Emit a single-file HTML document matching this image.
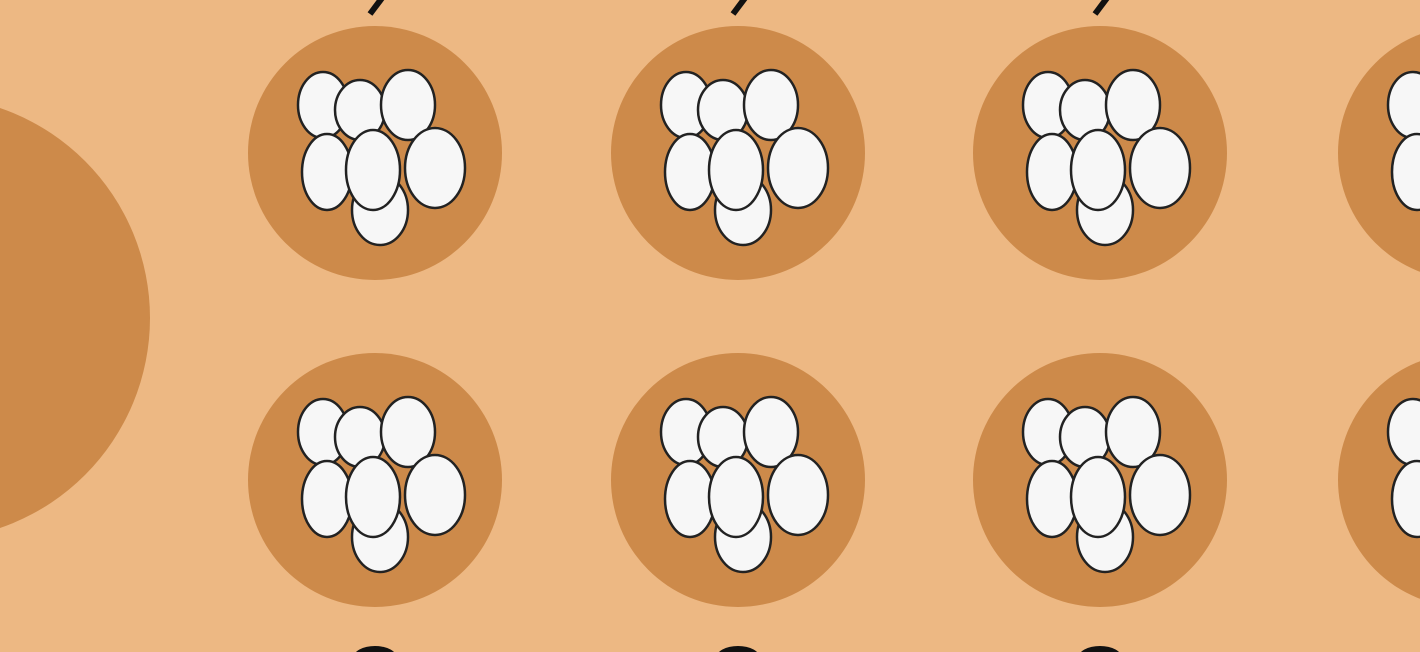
<!DOCTYPE html>
<html><head><meta charset="utf-8"><style>
html,body{margin:0;padding:0;background:#EDB883;}
svg{display:block}
</style></head><body>
<svg width="1420" height="652" viewBox="0 0 1420 652">
<rect width="1420" height="652" fill="#EDB883"/>
<circle cx="-72" cy="318" r="222" fill="#CD8A4A"/>
<g id="cells"></g>
</svg>
<script>
const cols=[375,738,1100,1465];
const rows=[153,480];
const eggs=[[5,57,28,35],[-52,-48,25,33],[-15,-43,25,30],[33,-48,27,35],[-48,19,25,38],[60,15,30,40],[-2,17,27,40]];
const g=document.getElementById('cells');
const ns='http://www.w3.org/2000/svg';
rows.forEach((cy,ri)=>cols.forEach((cx,ci)=>{
 const grp=document.createElementNS(ns,'g');
 
 
 const c=document.createElementNS(ns,'circle');
 c.setAttribute('cx',cx);c.setAttribute('cy',cy);c.setAttribute('r',127);c.setAttribute('fill','#CD8A4A');
 
 
 grp.appendChild(c);
 eggs.forEach(e=>{
  const el=document.createElementNS(ns,'ellipse');
  el.setAttribute('cx',cx+e[0]);el.setAttribute('cy',cy+e[1]);el.setAttribute('rx',e[2]);el.setAttribute('ry',e[3]);
  el.setAttribute('fill','#F7F7F7');el.setAttribute('stroke','#222');el.setAttribute('stroke-width','2.5');
  
  
  grp.appendChild(el);
 });
 g.appendChild(grp);
 if(ri===0){
  const l=document.createElementNS(ns,'line');
  l.setAttribute('x1',cx-5);l.setAttribute('y1',14);l.setAttribute('x2',cx+7);l.setAttribute('y2',-2);
  l.setAttribute('stroke','#111');l.setAttribute('stroke-width','6');
  
  
  g.appendChild(l);
 } else {
  const r=document.createElementNS(ns,'ellipse');
  r.setAttribute('cx',cx);r.setAttribute('cy',658);r.setAttribute('rx',22);r.setAttribute('ry',12);r.setAttribute('fill','#111');
  
  
  g.appendChild(r);
 }
}));
</script>
</body></html>
